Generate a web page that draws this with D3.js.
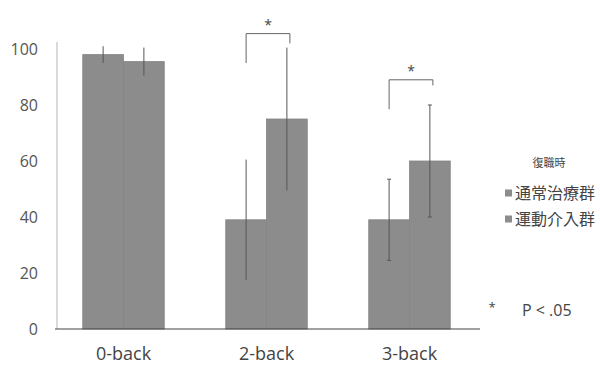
<!DOCTYPE html>
<html>
<head>
<meta charset="utf-8">
<script src="https://cdn.jsdelivr.net/npm/d3@7"></script>
<style>
  body { margin: 0; background: #fff; }
  text { font-family: "Open Sans", "Noto Sans", sans-serif; }
</style>
</head>
<body>
<svg id="chart"></svg>
<script>
const categories = ["0-back", "2-back", "3-back"];
const series = ["通常治療群", "運動介入群"];
const meanUsual = [98, 39, 39];
const sdUsual = [3, 21.5, 14.5];
const meanExercise = [95.5, 75, 60];
const sdExercise = [5, 25.5, 20];
// 3-back errors only carry caps in the picture
const hasCaps = [false, false, true];
const yTicks = [0, 20, 40, 60, 80, 100];

// significance brackets: category, top, left leg end, right leg end
const sigCats = ["2-back", "3-back"];
const sigTop = [105.5, 89];
const sigLeft = [95, 78.5];
const sigRight = [102, 87];

const width = 600, height = 365;
const svg = d3.select("#chart").attr("width", width).attr("height", height);

const y = d3.scaleLinear().domain([0, 100]).range([329, 49]);
const x = d3.scaleBand().domain(categories).range([52, 481])
    .paddingInner(0.43).paddingOuter(0.215);
const xSub = d3.scaleBand().domain(series).range([0, x.bandwidth()]);

const rows = categories.map((c, i) => [
    { cat: c, s: series[0], v: meanUsual[i], e: sdUsual[i], cap: hasCaps[i] },
    { cat: c, s: series[1], v: meanExercise[i], e: sdExercise[i], cap: hasCaps[i] }
]).flat();

// y axis
svg.append("line")
    .attr("x1", 57).attr("x2", 57)
    .attr("y1", y(100) - 7).attr("y2", y(0))
    .style("stroke", "#b5b5b5").style("stroke-width", 1);

svg.selectAll(".ytick")
    .data(yTicks)
    .enter().append("text")
    .attr("class", "ytick")
    .attr("x", 38)
    .attr("y", d => y(d))
    .attr("dy", "0.35em")
    .style("text-anchor", "end")
    .style("font-size", "16px")
    .style("fill", "#555")
    .text(d => d);

// bars
svg.selectAll(".bar")
    .data(rows)
    .enter().append("rect")
    .attr("class", "bar")
    .attr("x", d => x(d.cat) + xSub(d.s))
    .attr("y", d => y(d.v))
    .attr("width", xSub.bandwidth())
    .attr("height", d => y(0) - y(d.v))
    .attr("fill", "#8c8c8c")
    .attr("stroke", "#848484")
    .attr("stroke-width", 0.8);

// error bars
const cx = d => x(d.cat) + xSub(d.s) + xSub.bandwidth() / 2;
svg.selectAll(".err")
    .data(rows)
    .enter().append("line")
    .attr("class", "err")
    .attr("x1", cx).attr("x2", cx)
    .attr("y1", d => y(d.v + d.e))
    .attr("y2", d => y(d.v - d.e))
    .style("stroke", "#555").style("stroke-width", 1);

const caps = rows.filter(d => d.cap).flatMap(d => [d.v + d.e, d.v - d.e].map(t => ({ d, t })));
svg.selectAll(".cap")
    .data(caps)
    .enter().append("line")
    .attr("class", "cap")
    .attr("x1", c => cx(c.d) - 2).attr("x2", c => cx(c.d) + 2)
    .attr("y1", c => y(c.t)).attr("y2", c => y(c.t))
    .style("stroke", "#555").style("stroke-width", 1);

// x axis
svg.append("line")
    .attr("x1", 55).attr("x2", 480)
    .attr("y1", y(0)).attr("y2", y(0))
    .style("stroke", "#444").style("stroke-width", 1.2);

svg.selectAll(".xlab")
    .data(categories)
    .enter().append("text")
    .attr("class", "xlab")
    .attr("x", d => x(d) + x.bandwidth() / 2)
    .attr("y", 360)
    .style("text-anchor", "middle")
    .style("font-size", "18px")
    .style("fill", "#444")
    .text(d => d);

// brackets
sigCats.forEach((c, i) => {
    const x1 = x(c) + xSub(series[0]) + xSub.bandwidth() / 2;
    const x2 = x(c) + xSub(series[1]) + xSub.bandwidth() / 2 + 3;
    svg.append("path")
        .attr("d", `M${x1},${y(sigLeft[i])}V${y(sigTop[i])}H${x2}V${y(sigRight[i])}`)
        .attr("fill", "none")
        .style("stroke", "#666").style("stroke-width", 1);
    svg.append("text")
        .attr("x", (x1 + x2) / 2)
        .attr("y", y(sigTop[i]) - 4)
        .style("text-anchor", "middle")
        .style("font-size", "14px")
        .style("fill", "#444")
        .text("*");
});

// legend
svg.append("text")
    .attr("x", 549).attr("y", 167)
    .style("text-anchor", "middle")
    .style("font-family", "'Noto Sans CJK JP'")
    .style("font-size", "11px")
    .style("fill", "#444")
    .text("復職時");

const legend = svg.selectAll(".leg")
    .data(series)
    .enter().append("g")
    .attr("class", "leg")
    .attr("transform", (d, i) => `translate(505, ${193 + i * 26})`);
legend.append("rect")
    .attr("x", 0).attr("y", -3.5)
    .attr("width", 7).attr("height", 7)
    .attr("fill", "#8c8c8c");
legend.append("text")
    .attr("x", 10).attr("y", 0)
    .attr("dy", "0.35em")
    .style("font-family", "'Noto Sans CJK JP'")
    .style("font-size", "16px")
    .style("fill", "#444")
    .text(d => d);

svg.append("text")
    .attr("x", 492).attr("y", 312)
    .style("text-anchor", "middle")
    .style("font-size", "13px")
    .style("fill", "#444")
    .text("*");
svg.append("text")
    .attr("x", 522).attr("y", 316)
    .style("font-size", "16px")
    .style("fill", "#444")
    .text("P < .05");
</script>
</body>
</html>
